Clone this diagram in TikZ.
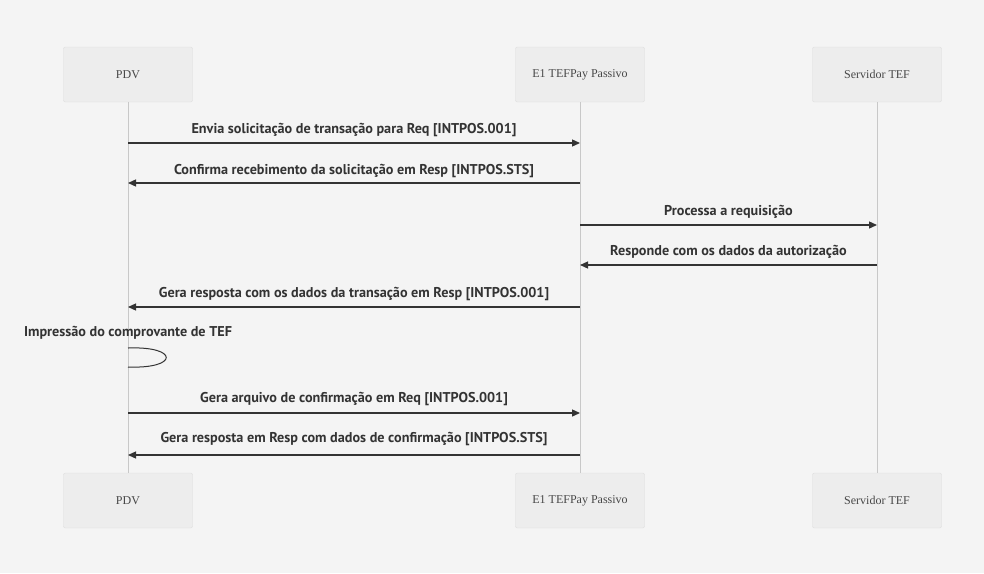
\documentclass[tikz,border=0pt]{standalone}
\usepackage{fontspec}
\setmainfont{Liberation Serif}
\newfontfamily\msgfont{PT Sans}
\usetikzlibrary{arrows.meta}
\definecolor{bg}{HTML}{F4F4F4}
\definecolor{boxfill}{HTML}{EDEDED}
\definecolor{boxline}{HTML}{DDDDDD}
\definecolor{lifeline}{HTML}{C8C8C8}
\definecolor{ink}{HTML}{333333}
\tikzset{
  actor/.style={draw=boxline, fill=boxfill, rounded corners=2pt, minimum width=129pt, minimum height=55pt, inner sep=0pt, font=\fontsize{12}{14}\selectfont, text=ink!90},
  life/.style={draw=lifeline, line width=0.8pt},
  msg/.style={draw=ink, line width=1.3pt, -{Triangle[length=8pt,width=7pt]}},
  lbl/.style={font=\msgfont\bfseries\fontsize{14.2}{16}\selectfont, text=ink, inner sep=0pt},
}
\begin{document}
\begin{tikzpicture}[x=1pt,y=-1pt]
\fill[bg] (0,0) rectangle (984,573);
\useasboundingbox (0,0) rectangle (984,573);
% actors top
\node[actor] (pdvT) at (128,74.5) {PDV};
\node[actor] (e1T) at (580,74.5) {E1 TEFPay Passivo};
\node[actor] (svT) at (877,74.5) {Servidor TEF};
% actors bottom
\node[actor] (pdvB) at (128,500.5) {PDV};
\node[actor] (e1B) at (580,500.5) {E1 TEFPay Passivo};
\node[actor] (svB) at (877,500.5) {Servidor TEF};
% lifelines
\draw[life] (pdvT.south) -- (pdvB.north);
\draw[life] (e1T.south) -- (e1B.north);
\draw[life] (svT.south) -- (svB.north);
% message anchor coordinates
\coordinate (p1) at (128,143); \coordinate (e1) at (580,143);
\coordinate (p2) at (128,183); \coordinate (e2) at (580,183);
\coordinate (e3) at (580,225); \coordinate (s3) at (877,225);
\coordinate (e4) at (580,265); \coordinate (s4) at (877,265);
\coordinate (p5) at (128,307); \coordinate (e5) at (580,307);
\coordinate (p6a) at (128,348); \coordinate (p6b) at (128,367);
\coordinate (p7) at (128,413); \coordinate (e7) at (580,413);
\coordinate (p8) at (128,455); \coordinate (e8) at (580,455);
% messages
\draw[msg] (p1) -- (e1);
\node[lbl] (l1) at (354,130) {Envia solicitação de transação para Req [INTPOS.001]};
\draw[msg] (e2) -- (p2);
\node[lbl] (l2) at (354,171) {Confirma recebimento da solicitação em Resp [INTPOS.STS]};
\draw[msg] (e3) -- (s3);
\node[lbl] (l3) at (728.5,212) {Processa a requisição};
\draw[msg] (s4) -- (e4);
\node[lbl] (l4) at (728.5,252) {Responde com os dados da autorização};
\draw[msg] (e5) -- (p5);
\node[lbl] (l5) at (354,294) {Gera resposta com os dados da transação em Resp [INTPOS.001]};
\node[lbl] (l6) at (128,333) {Impressão do comprovante de TEF};
\draw[draw=ink, line width=1pt] (p6a) .. controls (179,346) and (179,369) .. (p6b);
\draw[msg] (p7) -- (e7);
\node[lbl] (l7) at (354,399) {Gera arquivo de confirmação em Req [INTPOS.001]};
\draw[msg] (e8) -- (p8);
\node[lbl] (l8) at (354,439) {Gera resposta em Resp com dados de confirmação [INTPOS.STS]};
\end{tikzpicture}
\end{document}
